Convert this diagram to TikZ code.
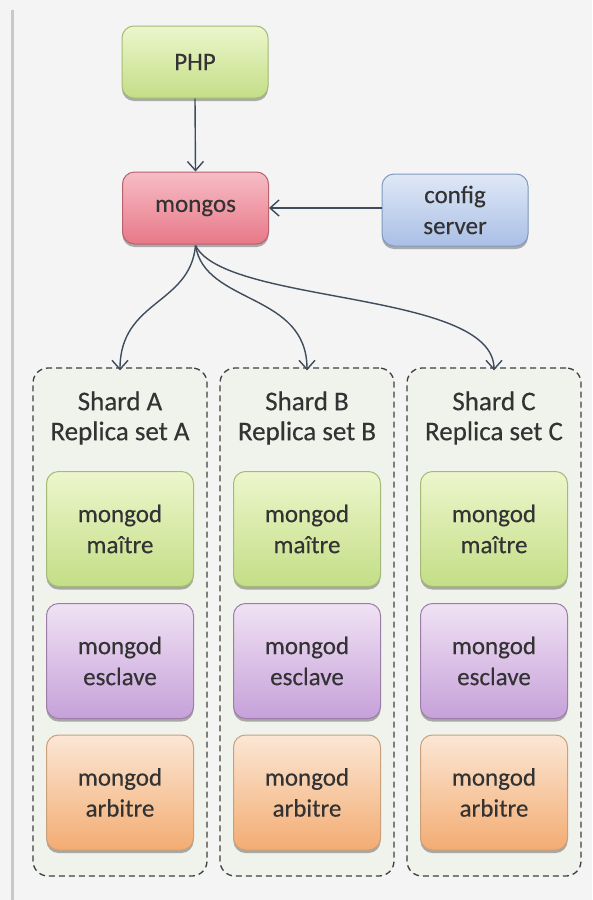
\documentclass[tikz,border=0pt]{standalone}
\usepackage{fontspec}
\setmainfont{Carlito}[UprightFeatures={FakeBold=0.35}]
\usetikzlibrary{arrows.meta,shadows}

\definecolor{bgcol}{HTML}{F4F4F4}
\definecolor{framecol}{HTML}{C8C8C8}
\definecolor{txtcol}{HTML}{333333}
\definecolor{linkcol}{HTML}{3E4C5C}
\definecolor{shardfill}{HTML}{F0F2EC}
\definecolor{greentop}{HTML}{EDF6CC}
\definecolor{greenbot}{HTML}{C3DE86}
\definecolor{greenedge}{HTML}{A3BB76}
\definecolor{redtop}{HTML}{F6BDC5}
\definecolor{redbot}{HTML}{E87888}
\definecolor{rededge}{HTML}{B8626E}
\definecolor{bluetop}{HTML}{DFE8F6}
\definecolor{bluebot}{HTML}{AABFE6}
\definecolor{blueedge}{HTML}{8099C2}
\definecolor{violettop}{HTML}{F0E2F4}
\definecolor{violetbot}{HTML}{C6A1D9}
\definecolor{violetedge}{HTML}{9C7DAA}
\definecolor{orangetop}{HTML}{FBE7D5}
\definecolor{orangebot}{HTML}{F3AC72}
\definecolor{orangeedge}{HTML}{C9A07A}

\tikzset{
  box/.style={rounded corners=12pt, draw, line width=1pt, align=center,
    text=txtcol, font=\fontsize{25}{31}\selectfont,
    drop shadow={shadow xshift=0pt, shadow yshift=-3pt, opacity=.3, fill=black}},
  topbox/.style={box, minimum width=146pt, minimum height=72pt},
  podbox/.style={box, minimum width=147pt, minimum height=115pt},
  greenbox/.style={top color=greentop, bottom color=greenbot, draw=greenedge},
  redbox/.style={top color=redtop, bottom color=redbot, draw=rededge},
  bluebox/.style={top color=bluetop, bottom color=bluebot, draw=blueedge},
  violetbox/.style={top color=violettop, bottom color=violetbot, draw=violetedge},
  orangebox/.style={top color=orangetop, bottom color=orangebot, draw=orangeedge},
  shard/.style={draw=black!75, dashed, dash pattern=on 6pt off 4pt, line width=1.3pt,
    rounded corners=15pt, fill=shardfill, minimum width=174pt, minimum height=508pt},
  shardtitle/.style={align=center, text=txtcol, font=\fontsize{27}{30}\selectfont},
  link/.style={draw=linkcol, line width=1.4pt,
    -{Straight Barb[length=9pt, width=16pt, line width=1.4pt]}},
}

\begin{document}
\begin{tikzpicture}[x=1pt, y=-1pt]
  % canvas
  \useasboundingbox (0,0) rectangle (592,900);
  \fill[bgcol] (0,0) rectangle (592,900);
  \fill[framecol] (11,10) rectangle (14,900);

  % routing tier
  \node[topbox, greenbox] (php) at (195,62) {PHP};
  \node[topbox, redbox] (mongos) at (195.5,208) {mongos};
  \node[topbox, bluebox] (config) at (455,210) {config\\server};

  % the three shards with their replica sets
  \foreach \s/\cx in {A/120, B/307, C/494} {
    \node[shard] (shard\s) at (\cx,622) {};
    \node[shardtitle] (title\s) at (\cx,418) {Shard \s\\Replica set \s};
    \node[podbox, greenbox] (master\s) at (\cx,529) {mongod\\maître};
    \node[podbox, violetbox] (slave\s) at (\cx,661) {mongod\\esclave};
    \node[podbox, orangebox] (arbiter\s) at (\cx,792.5) {mongod\\arbitre};
  }

  % connectors
  \coordinate (fork) at ([yshift=-1pt]mongos.south);
  \draw[link] (php.south) -- (mongos.north);
  \draw[link] (config.west |- mongos.east) -- (mongos.east);
  \draw[link] (fork) .. controls (190,305) and (120,300) .. ([yshift=-3pt]shardA.north);
  \draw[link] (fork) .. controls (205,305) and (307,292) .. ([yshift=-3pt]shardB.north);
  \draw[link] (fork) .. controls (225,305) and (494,290) .. ([yshift=-3pt]shardC.north);
\end{tikzpicture}
\end{document}
